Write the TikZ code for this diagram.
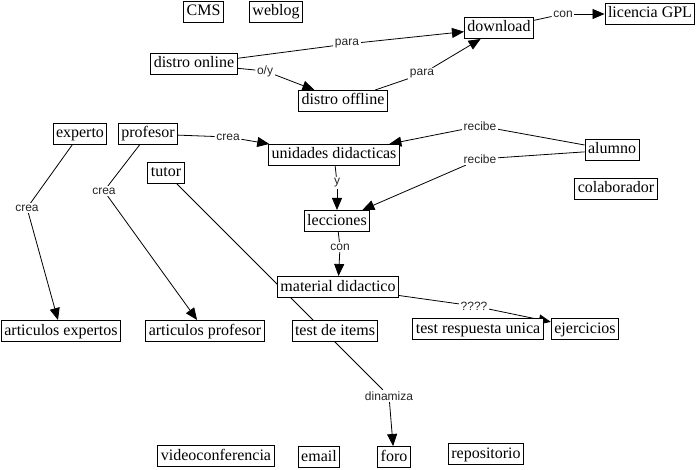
\documentclass[tikz,border=0pt]{standalone}
\usepackage{fontspec}
\setmainfont{Liberation Serif}
\newfontfamily\lblfont{Liberation Sans}
\usetikzlibrary{arrows.meta,backgrounds}
\begin{document}
\begin{tikzpicture}[x=1pt,y=-1pt,
 box/.style={draw, line width=1pt, fill=white, inner xsep=3pt, inner ysep=0pt, minimum height=21pt,
   text height=11.5pt, text depth=3.5pt, font=\fontsize{16}{18}\selectfont},
 lbl/.style={fill=white, inner sep=1.5pt, font=\lblfont\fontsize{12}{14}\selectfont, text=black!85},
 conn/.style={line width=0.8pt},
 arr/.style={conn, -{Triangle[length=12pt,width=10pt]}}]
\useasboundingbox (0,0) rectangle (700,470);

\node[box] (cms) at (203.5,12) {CMS};
\node[box] (weblog) at (276,12) {weblog};
\node[box] (download) at (499,28) {download};
\node[box] (gpl) at (650,14) {licencia GPL};
\node[box] (online) at (194,64) {distro online};
\node[box] (offline) at (343,101) {distro offline};
\node[box] (experto) at (80,134) {experto};
\node[box] (profesor) at (148,134) {profesor};
\node[box] (unidades) at (334,155) {unidades didacticas};
\node[box] (alumno) at (612,150) {alumno};
\node[box] (tutor) at (166,173) {tutor};
\node[box] (colab) at (616,189) {colaborador};
\node[box] (lecciones) at (337,221) {lecciones};
\node[box] (material) at (338,287) {material didactico};
\node[box] (artexp) at (61,331) {articulos expertos};
\node[box] (artprof) at (205,331) {articulos profesor};
\node[box] (test) at (335,331) {test de items};
\node[box] (testru) at (478,329) {test respuesta unica};
\node[box] (ejer) at (585,329) {ejercicios};
\node[box] (video) at (216,456) {videoconferencia};
\node[box] (email) at (319,457) {email};
\node[box] (foro) at (394,457) {foro};
\node[box] (repo) at (486,454) {repositorio};

\node[lbl] (l1) at (347,44) {para};
\node[lbl] (l2) at (265,71) {o/y};
\node[lbl] (l3) at (422,74) {para};
\node[lbl] (l4) at (563,14) {con};
\node[lbl] (l5) at (228,137) {crea};
\node[lbl] (l6) at (27,208) {crea};
\node[lbl] (l7) at (104,191) {crea};
\node[lbl] (l8) at (480,126) {recibe};
\node[lbl] (l9) at (480,159) {recibe};
\node[lbl] (l10) at (337,183) {y};
\node[lbl] (l11) at (340,247) {con};
\node[lbl] (l12) at (474,306) {????};
\node[lbl] (l13) at (389,396) {dinamiza};

\begin{scope}[on background layer]
\draw[conn] (online) -- (l1); \draw[arr] (l1) -- (download);
\draw[conn] (online) -- (l2); \draw[arr] (l2) -- (offline);
\draw[conn] (offline) -- (l3); \draw[arr] (l3) -- (download);
\draw[conn] (download) -- (l4); \draw[arr] (l4) -- (gpl);
\draw[conn] (profesor) -- (l5); \draw[arr] (l5) -- (unidades);
\draw[conn] (experto) -- (l6); \draw[arr] (l6) -- (artexp);
\draw[conn] (profesor) -- (l7); \draw[arr] (l7) -- (artprof);
\draw[conn] (alumno) -- (l8); \draw[arr] (l8) -- (unidades);
\draw[conn] (alumno) -- (l9); \draw[arr] (l9) -- (lecciones);
\draw[conn] (unidades) -- (l10); \draw[arr] (l10) -- (lecciones);
\draw[conn] (lecciones) -- (l11); \draw[arr] (l11) -- (material);
\draw[conn] (material) -- (l12); \draw[arr] (l12) -- (ejer);
\draw[conn] (tutor) -- (l13); \draw[arr] (l13) -- (foro);
\end{scope}
\end{tikzpicture}
\end{document}
